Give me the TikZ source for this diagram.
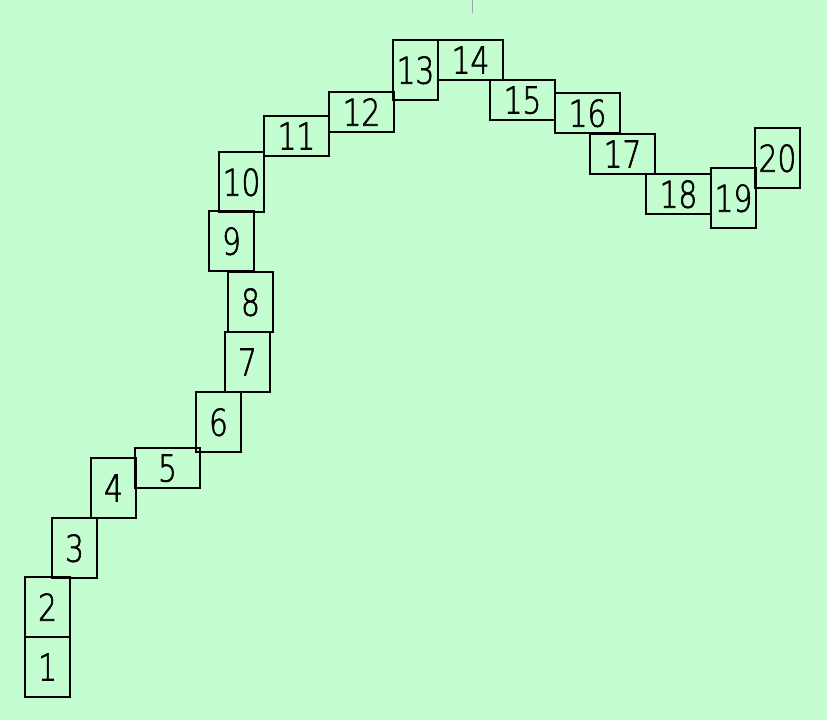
\documentclass[tikz,border=0pt]{standalone}
\usepackage{fontspec}
\newfontfamily\labfont{DejaVu Sans ExtraLight}[FakeStretch=0.8, FakeBold=1.6]
\definecolor{bgc}{RGB}{196,253,208}
\tikzset{
  cell/.style={draw=black, line width=1.6pt, inner sep=0pt, font=\labfont\fontsize{37}{37}\selectfont, text depth=0pt},
  tall/.style={cell, minimum width=45pt, minimum height=60pt},
  wide/.style={cell, minimum width=65pt, minimum height=40pt}
}
\begin{document}
\begin{tikzpicture}[x=1pt,y=-1pt]
\fill[bgc] (0,0) rectangle (827,720);
\useasboundingbox (0,0) rectangle (827,720);
\draw[gray!70, line width=1pt] (472,0) -- (472,13);
\node[tall] (n1) at (47.5,667) {1};
\node[tall] (n2) at (47.5,607) {2};
\node[tall] (n3) at (74.5,548) {3};
\node[tall] (n4) at (113.5,488) {4};
\node[wide] (n5) at (167.5,468) {5};
\node[tall] (n6) at (218.5,422) {6};
\node[tall] (n7) at (247.5,362) {7};
\node[tall] (n8) at (250.5,302) {8};
\node[tall] (n9) at (231.5,241) {9};
\node[tall] (n10) at (241.5,182) {10};
\node[wide] (n11) at (296.5,136) {11};
\node[wide] (n12) at (361.5,112) {12};
\node[tall] (n13) at (415.5,70) {13};
\node[wide] (n14) at (470.5,60) {14};
\node[wide] (n15) at (522.5,100) {15};
\node[wide] (n16) at (587.5,113) {16};
\node[wide] (n17) at (622.5,154) {17};
\node[wide] (n18) at (678.5,194) {18};
\node[tall] (n19) at (733.5,198) {19};
\node[tall] (n20) at (777.5,158) {20};
\end{tikzpicture}
\end{document}
